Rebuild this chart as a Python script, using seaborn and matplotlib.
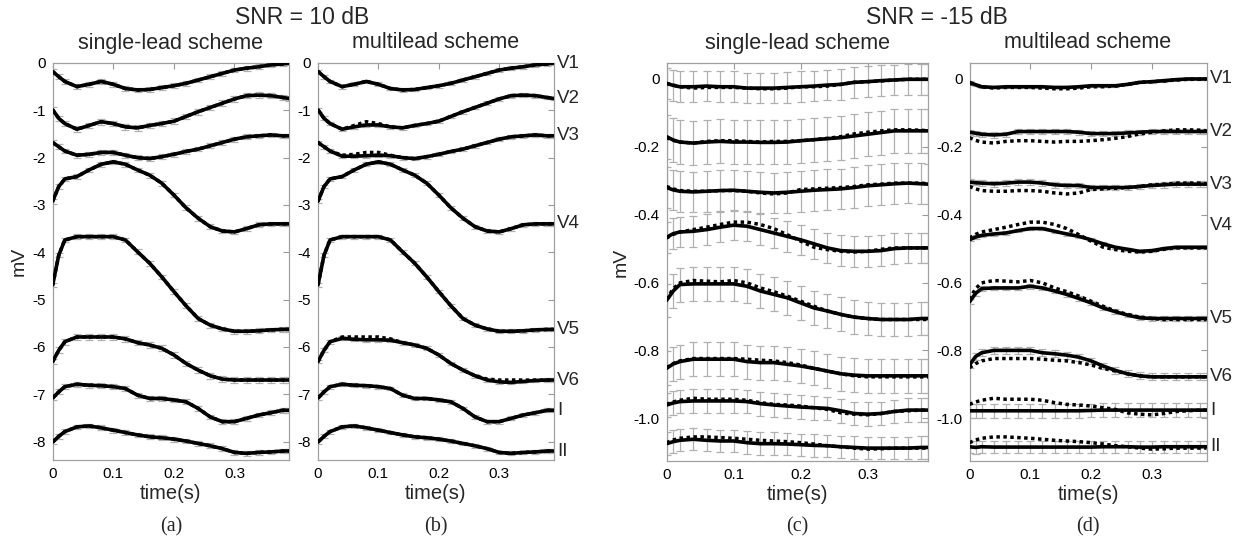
import matplotlib
matplotlib.use("Agg")
import matplotlib.pyplot as plt
import matplotlib.transforms as mtransforms
import numpy as np
import pandas as pd
import seaborn as sns

# ---- data ----------------------------------------------------------------
LEADS = ["V1", "V2", "V3", "V4", "V5", "V6", "I", "II"]
TIME = [0.00, 0.01, 0.02, 0.04, 0.06, 0.08, 0.10, 0.12, 0.14, 0.16, 0.18,
        0.20, 0.22, 0.24, 0.26, 0.28, 0.30, 0.32, 0.34, 0.36, 0.38, 0.39]

# SNR = 10 dB, reference beats (dotted)
TRUE_10DB = {
    "V1": [-0.18, -0.29, -0.39, -0.50, -0.45, -0.39, -0.45, -0.54, -0.57, -0.56, -0.52,
           -0.48, -0.43, -0.36, -0.29, -0.22, -0.15, -0.11, -0.08, -0.04, -0.02, 0.00],
    "V2": [-0.99, -1.17, -1.28, -1.40, -1.32, -1.24, -1.28, -1.35, -1.37, -1.32, -1.28,
           -1.23, -1.13, -1.03, -0.94, -0.85, -0.76, -0.69, -0.68, -0.69, -0.73, -0.75],
    "V3": [-1.68, -1.77, -1.86, -1.95, -1.93, -1.89, -1.89, -1.95, -2.00, -2.02, -1.98,
           -1.93, -1.87, -1.82, -1.75, -1.68, -1.61, -1.56, -1.54, -1.52, -1.54, -1.54],
    "V4": [-2.92, -2.61, -2.45, -2.40, -2.26, -2.14, -2.09, -2.14, -2.26, -2.37, -2.54,
           -2.79, -3.06, -3.28, -3.46, -3.55, -3.57, -3.50, -3.42, -3.40, -3.40, -3.40],
    "V5": [-4.69, -4.06, -3.74, -3.67, -3.67, -3.67, -3.67, -3.74, -3.99, -4.23, -4.52,
           -4.83, -5.13, -5.40, -5.54, -5.62, -5.67, -5.67, -5.66, -5.64, -5.63, -5.63],
    "V6": [-6.31, -6.07, -5.89, -5.79, -5.79, -5.79, -5.79, -5.83, -5.91, -5.96, -6.03,
           -6.17, -6.35, -6.49, -6.61, -6.68, -6.70, -6.70, -6.70, -6.70, -6.70, -6.70],
    "I":  [-7.08, -6.95, -6.84, -6.79, -6.81, -6.82, -6.84, -6.88, -7.02, -7.09, -7.09,
           -7.12, -7.16, -7.30, -7.48, -7.58, -7.58, -7.51, -7.44, -7.39, -7.34, -7.34],
    "II": [-8.01, -7.89, -7.79, -7.69, -7.67, -7.71, -7.76, -7.81, -7.86, -7.90, -7.92,
           -7.95, -7.99, -8.04, -8.09, -8.15, -8.23, -8.25, -8.23, -8.22, -8.20, -8.20],
}
# single-lead estimate sits on the reference at this SNR
SINGLE_10DB = TRUE_10DB
MULTI_10DB = {
    "V1": TRUE_10DB["V1"],
    "V2": [-0.99, -1.17, -1.28, -1.40, -1.35, -1.31, -1.31, -1.35, -1.37, -1.32, -1.28,
           -1.23, -1.13, -1.03, -0.94, -0.85, -0.76, -0.69, -0.68, -0.69, -0.73, -0.75],
    "V3": [-1.68, -1.77, -1.86, -1.97, -1.97, -1.96, -1.95, -1.96, -2.00, -2.02, -1.98,
           -1.93, -1.87, -1.82, -1.75, -1.68, -1.61, -1.56, -1.54, -1.52, -1.54, -1.54],
    "V4": TRUE_10DB["V4"],
    "V5": TRUE_10DB["V5"],
    "V6": [-6.31, -6.07, -5.89, -5.82, -5.84, -5.85, -5.85, -5.86, -5.91, -5.96, -6.03,
           -6.17, -6.35, -6.49, -6.61, -6.70, -6.74, -6.75, -6.73, -6.71, -6.70, -6.70],
    "I": TRUE_10DB["I"],
    "II": TRUE_10DB["II"],
}
ERR_SINGLE_10DB = [0.05, 0.06, 0.05, 0.05, 0.05, 0.06, 0.05, 0.05]
ERR_MULTI_10DB = [0.04, 0.04, 0.04, 0.04, 0.04, 0.04, 0.04, 0.04]

# SNR = -15 dB, reference beats (dotted)
TRUE_15DB = {
    "V1": [-0.013, -0.018, -0.023, -0.027, -0.025, -0.025, -0.025, -0.027, -0.029, -0.029, -0.027,
           -0.023, -0.023, -0.021, -0.016, -0.010, -0.008, -0.006, -0.003, -0.001, -0.001, -0.001],
    "V2": [-0.173, -0.181, -0.186, -0.189, -0.184, -0.182, -0.182, -0.184, -0.186, -0.184, -0.184,
           -0.182, -0.179, -0.175, -0.170, -0.162, -0.157, -0.153, -0.150, -0.150, -0.151, -0.153],
    "V3": [-0.317, -0.324, -0.329, -0.331, -0.331, -0.329, -0.329, -0.331, -0.336, -0.339, -0.336,
           -0.326, -0.324, -0.322, -0.320, -0.317, -0.312, -0.310, -0.307, -0.307, -0.307, -0.309],
    "V4": [-0.469, -0.458, -0.451, -0.444, -0.437, -0.429, -0.422, -0.422, -0.429, -0.441, -0.459,
           -0.478, -0.496, -0.503, -0.508, -0.510, -0.508, -0.502, -0.498, -0.498, -0.498, -0.498],
    "V5": [-0.650, -0.618, -0.601, -0.594, -0.596, -0.598, -0.594, -0.601, -0.616, -0.627, -0.640,
           -0.655, -0.670, -0.684, -0.694, -0.702, -0.706, -0.709, -0.709, -0.709, -0.709, -0.709],
    "V6": [-0.851, -0.839, -0.831, -0.824, -0.824, -0.824, -0.824, -0.826, -0.829, -0.831, -0.836,
           -0.843, -0.853, -0.861, -0.869, -0.875, -0.878, -0.878, -0.878, -0.878, -0.878, -0.878],
    "I":  [-0.959, -0.952, -0.947, -0.941, -0.944, -0.944, -0.944, -0.947, -0.954, -0.959, -0.961,
           -0.964, -0.969, -0.974, -0.984, -0.988, -0.990, -0.986, -0.980, -0.978, -0.976, -0.976],
    "II": [-1.072, -1.064, -1.059, -1.055, -1.055, -1.057, -1.059, -1.062, -1.065, -1.067, -1.069,
           -1.072, -1.076, -1.081, -1.084, -1.088, -1.091, -1.090, -1.088, -1.088, -1.088, -1.088],
}
SINGLE_15DB = {
    "V1": [-0.013, -0.019, -0.023, -0.023, -0.021, -0.023, -0.023, -0.027, -0.027, -0.027, -0.025,
           -0.023, -0.021, -0.018, -0.016, -0.010, -0.008, -0.005, -0.003, -0.001, -0.001, -0.001],
    "V2": [-0.170, -0.180, -0.186, -0.189, -0.186, -0.184, -0.186, -0.186, -0.187, -0.187, -0.186,
           -0.182, -0.179, -0.176, -0.173, -0.168, -0.163, -0.158, -0.153, -0.153, -0.153, -0.153],
    "V3": [-0.320, -0.327, -0.331, -0.333, -0.331, -0.329, -0.328, -0.331, -0.334, -0.336, -0.334,
           -0.331, -0.328, -0.326, -0.324, -0.320, -0.315, -0.312, -0.309, -0.307, -0.309, -0.310],
    "V4": [-0.467, -0.456, -0.451, -0.449, -0.444, -0.437, -0.431, -0.434, -0.444, -0.454, -0.464,
           -0.474, -0.486, -0.498, -0.506, -0.508, -0.508, -0.506, -0.500, -0.498, -0.498, -0.498],
    "V5": [-0.653, -0.625, -0.606, -0.604, -0.604, -0.604, -0.604, -0.611, -0.625, -0.635, -0.645,
           -0.660, -0.675, -0.684, -0.694, -0.702, -0.706, -0.709, -0.709, -0.709, -0.706, -0.706],
    "V6": [-0.853, -0.840, -0.833, -0.826, -0.826, -0.826, -0.826, -0.833, -0.836, -0.836, -0.841,
           -0.846, -0.853, -0.861, -0.869, -0.873, -0.875, -0.875, -0.875, -0.875, -0.875, -0.875],
    "I":  [-0.961, -0.955, -0.951, -0.949, -0.949, -0.949, -0.949, -0.951, -0.957, -0.961, -0.964,
           -0.967, -0.969, -0.971, -0.978, -0.986, -0.988, -0.986, -0.980, -0.976, -0.976, -0.976],
    "II": [-1.075, -1.069, -1.065, -1.062, -1.065, -1.067, -1.067, -1.072, -1.075, -1.075, -1.076,
           -1.078, -1.080, -1.081, -1.084, -1.086, -1.088, -1.088, -1.088, -1.088, -1.086, -1.086],
}
MULTI_15DB = {
    "V1": [-0.010, -0.017, -0.023, -0.025, -0.023, -0.023, -0.023, -0.023, -0.025, -0.025, -0.023,
           -0.020, -0.020, -0.020, -0.016, -0.010, -0.008, -0.005, -0.002, 0.000, 0.000, 0.000],
    "V2": [-0.157, -0.160, -0.163, -0.165, -0.163, -0.155, -0.155, -0.155, -0.155, -0.155, -0.157,
           -0.161, -0.161, -0.161, -0.159, -0.157, -0.155, -0.155, -0.155, -0.155, -0.155, -0.155],
    "V3": [-0.304, -0.306, -0.307, -0.309, -0.307, -0.304, -0.304, -0.307, -0.312, -0.314, -0.314,
           -0.320, -0.320, -0.320, -0.320, -0.317, -0.314, -0.312, -0.310, -0.310, -0.310, -0.310],
    "V4": [-0.474, -0.466, -0.461, -0.457, -0.454, -0.447, -0.441, -0.441, -0.449, -0.457, -0.464,
           -0.474, -0.486, -0.496, -0.502, -0.508, -0.506, -0.500, -0.496, -0.496, -0.496, -0.496],
    "V5": [-0.657, -0.632, -0.618, -0.616, -0.616, -0.616, -0.611, -0.616, -0.625, -0.635, -0.647,
           -0.660, -0.675, -0.686, -0.696, -0.704, -0.706, -0.706, -0.706, -0.706, -0.706, -0.706],
    "V6": [-0.843, -0.818, -0.807, -0.800, -0.800, -0.800, -0.800, -0.807, -0.810, -0.814, -0.820,
           -0.831, -0.846, -0.859, -0.869, -0.875, -0.878, -0.878, -0.878, -0.878, -0.878, -0.878],
    "I":  [-0.978, -0.978, -0.978, -0.978, -0.978, -0.978, -0.978, -0.978, -0.978, -0.978, -0.978,
           -0.977, -0.976, -0.976, -0.976, -0.976, -0.976, -0.976, -0.976, -0.976, -0.976, -0.976],
    "II": [-1.084, -1.086, -1.084, -1.085, -1.085, -1.085, -1.085, -1.085, -1.085, -1.085, -1.085,
           -1.085, -1.084, -1.084, -1.084, -1.085, -1.085, -1.084, -1.084, -1.084, -1.084, -1.084],
}
ERR_SINGLE_15DB = [0.045, 0.065, 0.060, 0.045, 0.050, 0.050, 0.035, 0.033]
ERR_MULTI_15DB = [0.003, 0.008, 0.008, 0.005, 0.007, 0.010, 0.020, 0.018]

YTICKS_10DB = [0, -1, -2, -3, -4, -5, -6, -7, -8]
YTICKS_15DB = [0, -0.2, -0.4, -0.6, -0.8, -1.0]
YTICKLABELS_15DB = ["0", "-0.2", "-0.4", "-0.6", "-0.8", "-1.0"]
XTICKS = [0, 0.1, 0.2, 0.3]
XTICKLABELS = ["0", "0.1", "0.2", "0.3"]


def to_long(curves: dict) -> pd.DataFrame:
    frames = [pd.DataFrame({"lead": lead, "t": TIME, "mV": curves[lead]}) for lead in LEADS]
    return pd.concat(frames, ignore_index=True)


sns.set_style("white")
plt.rcParams["font.family"] = ["Liberation Sans", "DejaVu Sans"]
plt.rcParams["axes.unicode_minus"] = False

W, H = 1241, 542
fig = plt.figure(figsize=(W / 100, H / 100), dpi=100)


def px_axes(left, right, top, bottom):
    return fig.add_axes([left / W, 1 - bottom / H, (right - left) / W, (bottom - top) / H])


panels = [
    dict(box=(52.7, 289, 63, 460), est=SINGLE_10DB, true=TRUE_10DB, err=ERR_SINGLE_10DB,
         ylim=(-8.39, 0.0), yticks=YTICKS_10DB, yticklabels=[str(v) for v in YTICKS_10DB],
         title="single-lead scheme", cap="(a)", ylabel=True, leads=False),
    dict(box=(318, 553.5, 63, 460), est=MULTI_10DB, true=TRUE_10DB, err=ERR_MULTI_10DB,
         ylim=(-8.39, 0.0), yticks=YTICKS_10DB, yticklabels=[str(v) for v in YTICKS_10DB],
         title="multilead scheme", cap="(b)", ylabel=False, leads=True),
    dict(box=(666.5, 928, 63, 461), est=SINGLE_15DB, true=TRUE_15DB, err=ERR_SINGLE_15DB,
         ylim=(-1.126, 0.047), yticks=YTICKS_15DB, yticklabels=YTICKLABELS_15DB,
         title="single-lead scheme", cap="(c)", ylabel=True, leads=False),
    dict(box=(969.5, 1206.5, 63, 461), est=MULTI_15DB, true=TRUE_15DB, err=ERR_MULTI_15DB,
         ylim=(-1.126, 0.047), yticks=YTICKS_15DB, yticklabels=YTICKLABELS_15DB,
         title="multilead scheme", cap="(d)", ylabel=False, leads=True),
]

# label heights that differ from the curve end value
LABEL_SHIFT = {("(d)", "V4"): 0.063}

for p in panels:
    left, right, top, bottom = p["box"]
    ax = px_axes(left, right, top, bottom)

    for lead, e in zip(LEADS, p["err"]):
        ax.errorbar(TIME, p["est"][lead], yerr=e, fmt="none", ecolor="#b0b0b0",
                    elinewidth=0.9, capsize=2.6, capthick=0.9, zorder=1)

    sns.lineplot(data=to_long(p["est"]), x="t", y="mV", units="lead", estimator=None,
                 color="black", lw=2.6, sort=False, legend=False, ax=ax, zorder=3)
    sns.lineplot(data=to_long(p["true"]), x="t", y="mV", units="lead", estimator=None,
                 color="black", lw=2.5, linestyle=(0, (1, 1)), sort=False, legend=False,
                 ax=ax, zorder=4)

    ax.set_xlim(0, 0.39)
    ax.set_ylim(*p["ylim"])
    ax.set_xticks(XTICKS)
    ax.set_xticklabels(XTICKLABELS)
    ax.set_yticks(p["yticks"])
    ax.set_yticklabels(p["yticklabels"])
    ax.tick_params(direction="in", top=True, right=True, length=4, width=0.8,
                   color="#9a9a9a", labelsize=11, labelcolor="black", pad=5)
    for sp in ax.spines.values():
        sp.set_color("#a0a0a0")
        sp.set_linewidth(0.9)

    ax.set_xlabel("time(s)", fontsize=14.5, labelpad=2)
    ax.set_ylabel("mV" if p["ylabel"] else "", fontsize=14, labelpad=3)

    cx = (left + right) / 2 / W
    fig.text(cx, 1 - 43 / H, p["title"], ha="center", va="center", fontsize=15.5)
    fig.text(cx, 1 - 527 / H, p["cap"], ha="center", va="center", fontsize=14.5,
             family=["Liberation Serif", "DejaVu Serif"])

    if p["leads"]:
        trans = mtransforms.blended_transform_factory(ax.transAxes, ax.transData)
        for lead in LEADS:
            y_end = p["est"][lead][-1] + LABEL_SHIFT.get((p["cap"], lead), 0.0)
            ax.text(1.015, y_end, lead, transform=trans, ha="left", va="center",
                    fontsize=13.5, clip_on=False)

fig.text(302 / W, 1 - 18 / H, "SNR = 10 dB", ha="center", va="center", fontsize=16.5)
fig.text(937 / W, 1 - 18 / H, "SNR = -15 dB", ha="center", va="center", fontsize=16.5)

fig.savefig("out.png", dpi=100)
plt.close(fig)
